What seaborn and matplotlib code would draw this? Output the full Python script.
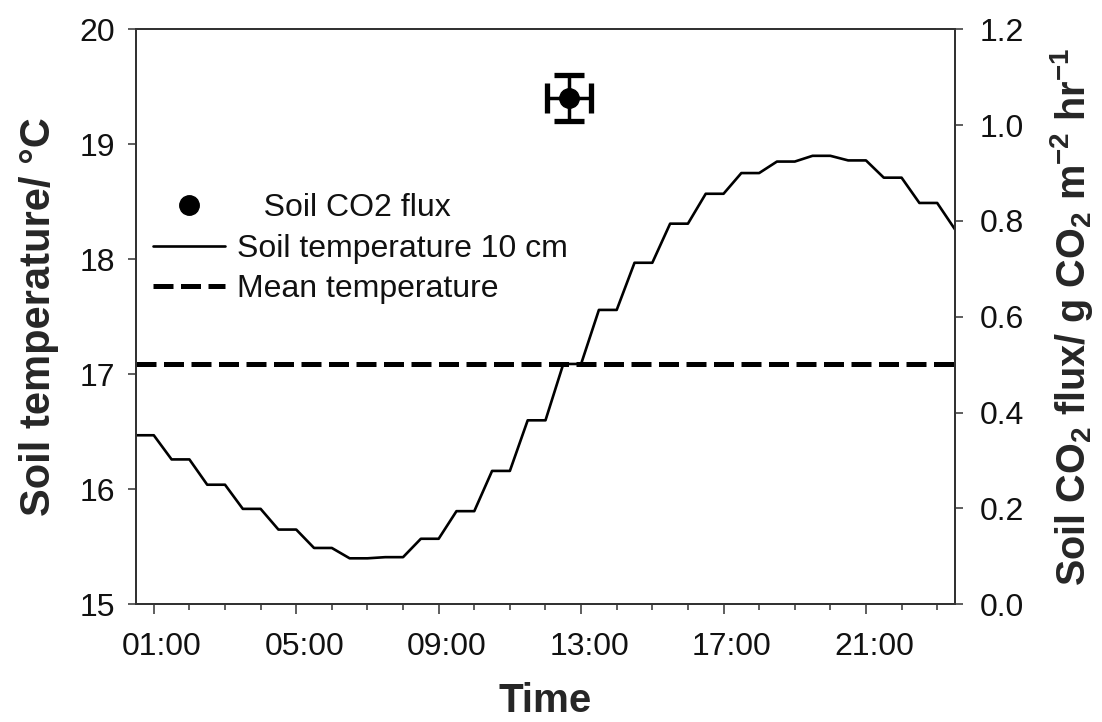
import matplotlib
matplotlib.use("Agg")
import numpy as np
import pandas as pd
import matplotlib.pyplot as plt
import seaborn as sns
from matplotlib.legend_handler import HandlerLine2D
from matplotlib.transforms import ScaledTranslation
from matplotlib.ticker import FixedLocator, MultipleLocator

# ---------------- data ----------------
hours = [0.5, 1.0, 1.5, 2.0, 2.5, 3.0, 3.5, 4.0, 4.5, 5.0, 5.5, 6.0,
         6.5, 7.0, 7.5, 8.0, 8.5, 9.0, 9.5, 10.0, 10.5, 11.0, 11.5, 12.0,
         12.5, 13.0, 13.5, 14.0, 14.5, 15.0, 15.5, 16.0, 16.5, 17.0, 17.5, 18.0,
         18.5, 19.0, 19.5, 20.0, 20.5, 21.0, 21.5, 22.0, 22.5, 23.0, 23.5]
soil_temp_10cm = [16.47, 16.47, 16.26, 16.26, 16.04, 16.04, 15.83, 15.83, 15.65, 15.65, 15.49, 15.49,
                  15.40, 15.40, 15.41, 15.41, 15.57, 15.57, 15.81, 15.81, 16.16, 16.16, 16.60, 16.60,
                  17.09, 17.09, 17.56, 17.56, 17.97, 17.97, 18.31, 18.31, 18.57, 18.57, 18.75, 18.75,
                  18.85, 18.85, 18.90, 18.90, 18.86, 18.86, 18.71, 18.71, 18.49, 18.49, 18.26]
mean_temperature = 17.09

flux_time = [12.65]
flux_time_err = [0.62]
soil_co2_flux = [1.057]
soil_co2_flux_err = [0.048]

x_tick_hours = [1, 5, 9, 13, 17, 21]
x_tick_labels = ["01:00", "05:00", "09:00", "13:00", "17:00", "21:00"]
left_ticks = [15, 16, 17, 18, 19, 20]
right_ticks = [0.0, 0.2, 0.4, 0.6, 0.8, 1.0, 1.2]

# ---------------- style ----------------
sns.set_theme(style="ticks")
plt.rcParams["font.family"] = ["Liberation Sans", "DejaVu Sans"]
plt.rcParams["mathtext.fontset"] = "custom"
plt.rcParams["mathtext.rm"] = "Liberation Sans"
plt.rcParams["mathtext.bf"] = "Liberation Sans:bold"
plt.rcParams["mathtext.default"] = "bf"

TICK_FS = 23
LABEL_FS = 30

fig = plt.figure(figsize=(11.02, 7.22), dpi=100)
ax = fig.add_axes([0.1234, 0.163, 0.7432, 0.7964])

df = pd.DataFrame({"hour": hours, "temp": soil_temp_10cm})
sns.lineplot(data=df, x="hour", y="temp", ax=ax, color="black", linewidth=1.9,
             estimator=None, label="Soil temperature 10 cm", legend=False)
temp_line = ax.get_lines()[-1]
mean_line = ax.axhline(mean_temperature, color="black", linewidth=3.6,
                       dashes=(4.0, 1.5), label="Mean temperature")

ax.set_xlim(0.5, 23.5)
ax.set_ylim(15, 20)
ax.xaxis.set_major_locator(FixedLocator(x_tick_hours))
ax.set_xticklabels(x_tick_labels)
ax.xaxis.set_minor_locator(MultipleLocator(1))
ax.set_yticks(left_ticks)
ax.set_yticklabels([str(v) for v in left_ticks])

ax2 = ax.twinx()
eb = ax2.errorbar(flux_time, soil_co2_flux, xerr=flux_time_err, yerr=soil_co2_flux_err,
                  fmt="o", color="black", markersize=14, elinewidth=2.5,
                  capsize=11, capthick=3.8, label="Soil CO2 flux", zorder=5)
ax2.set_ylim(0, 1.2)
ax2.set_yticks(right_ticks)
ax2.set_yticklabels([f"{v:.1f}" for v in right_ticks])

for a in (ax, ax2):
    for s in a.spines.values():
        s.set_linewidth(1.4)
        s.set_color("#333333")
        s.set_visible(True)
    a.tick_params(axis="both", which="major", direction="out", length=6,
                  width=1.1, color="#333333", labelsize=TICK_FS, labelcolor="#111111")
    a.grid(False)

ax.tick_params(axis="x", which="major", length=7, pad=13)
ax.tick_params(axis="x", which="minor", length=4.5, width=1.1, color="#333333", direction="out")
ax.tick_params(axis="y", which="major", pad=9)
ax2.tick_params(axis="y", which="major", pad=12)

# shift x tick labels slightly right as in the reference
for lab in ax.get_xticklabels():
    lab.set_transform(lab.get_transform() + ScaledTranslation(8 / 100, 0, fig.dpi_scale_trans))

ax.set_xlabel("Time", fontsize=29, fontweight="bold", labelpad=14)
ax.set_ylabel("Soil temperature/ °C", fontsize=LABEL_FS, fontweight="bold", labelpad=15)
ax2.set_ylabel(r"Soil CO$_2$ flux/ g CO$_2$ m$^{-2}$ hr$^{-1}$", fontsize=28.5,
               fontweight="bold", labelpad=17)


class RightMarkerHandler(HandlerLine2D):
    def get_xdata(self, legend, xdescent, ydescent, width, height, fontsize):
        xdata, _ = super().get_xdata(legend, xdescent, ydescent, width, height, fontsize)
        return xdata, [-xdescent + width]


marker_line = eb.lines[0]
handles = [marker_line, temp_line, mean_line]
labels = ["   Soil CO2 flux", "Soil temperature 10 cm", "Mean temperature"]
leg = ax2.legend(handles, labels, loc="upper left", bbox_to_anchor=(0.021, 0.715),
                 frameon=False, fontsize=23, handlelength=2.25, handletextpad=0.38,
                 labelspacing=0.33, borderpad=0, borderaxespad=0, numpoints=1,
                 handler_map={marker_line: RightMarkerHandler(numpoints=1)})
for t in leg.get_texts():
    t.set_color("#111111")

fig.savefig("out.png", dpi=100)
